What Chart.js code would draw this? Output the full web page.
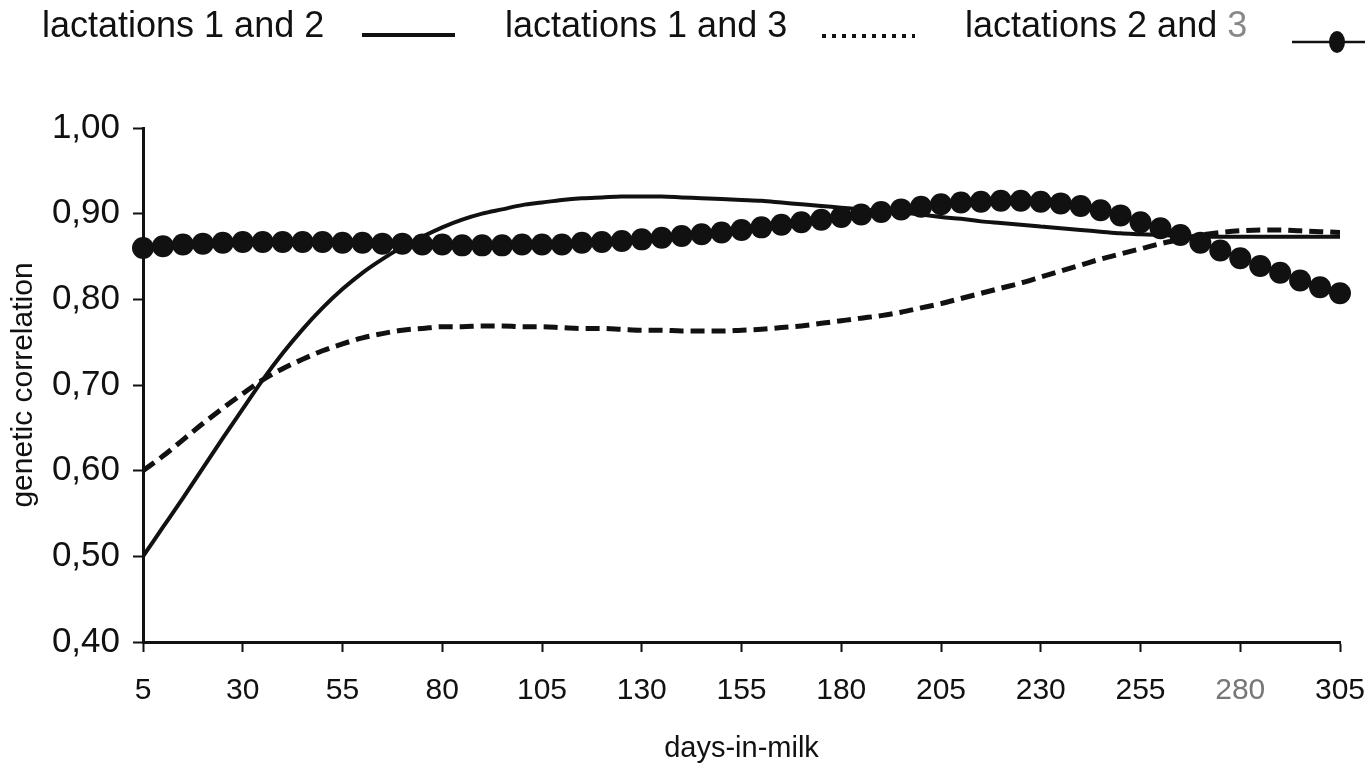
<!DOCTYPE html>
<html>
<head>
<meta charset="utf-8">
<title>genetic correlation by days-in-milk</title>
<script src="https://cdn.jsdelivr.net/npm/chart.js@4.4.1/dist/chart.umd.min.js"></script>
<style>
  html, body { margin: 0; padding: 0; background: #fff; }
  #wrap { width: 1370px; height: 770px; }
</style>
</head>
<body>
<div id="wrap"><canvas id="corrChart" width="1370" height="770"></canvas></div>
<script>
// ----------------- Data -----------------
const days = [5,10,15,20,25,30,35,40,45,50,55,60,65,70,75,80,85,90,95,100,
  105,110,115,120,125,130,135,140,145,150,155,160,165,170,175,180,185,190,195,200,
  205,210,215,220,225,230,235,240,245,250,255,260,265,270,275,280,285,290,295,300,305];
const xTicks = [5,30,55,80,105,130,155,180,205,230,255,280,305];
const yTicks = [0.4,0.5,0.6,0.7,0.8,0.9,1.0];

const seriesNames = ['lactations 1 and 2', 'lactations 1 and 3', 'lactations 2 and 3'];

const lact12 = [0.500,0.534,0.568,0.603,0.638,0.672,0.706,0.737,0.765,0.790,
  0.812,0.831,0.847,0.861,0.873,0.884,0.893,0.900,0.905,0.910,
  0.913,0.916,0.918,0.919,0.920,0.920,0.920,0.919,0.918,0.917,
  0.916,0.915,0.913,0.911,0.909,0.907,0.905,0.903,0.901,0.899,
  0.896,0.894,0.891,0.889,0.887,0.885,0.883,0.881,0.879,0.877,
  0.876,0.875,0.874,0.873,0.873,0.873,0.873,0.873,0.873,0.873,0.873];

const lact13 = [0.600,0.617,0.636,0.655,0.673,0.690,0.706,0.719,0.730,0.740,
  0.748,0.755,0.760,0.764,0.766,0.768,0.768,0.769,0.769,0.768,
  0.768,0.767,0.766,0.766,0.765,0.764,0.764,0.763,0.763,0.763,
  0.764,0.765,0.767,0.769,0.772,0.775,0.778,0.781,0.785,0.790,
  0.795,0.801,0.807,0.813,0.819,0.826,0.833,0.840,0.847,0.853,
  0.859,0.865,0.870,0.875,0.878,0.880,0.881,0.881,0.880,0.879,0.878];

const lact23 = [0.860,0.862,0.864,0.865,0.866,0.867,0.867,0.867,0.867,0.867,
  0.866,0.866,0.865,0.865,0.864,0.864,0.863,0.863,0.863,0.864,
  0.864,0.864,0.866,0.867,0.868,0.870,0.872,0.874,0.876,0.878,
  0.881,0.884,0.887,0.890,0.893,0.896,0.899,0.902,0.905,0.908,
  0.911,0.913,0.914,0.915,0.915,0.914,0.912,0.909,0.904,0.898,
  0.890,0.883,0.875,0.866,0.857,0.848,0.839,0.831,0.822,0.814,0.807];

const toPoints = vals => days.map((d, i) => ({ x: d, y: vals[i] }));

const INK = '#111';
const FONT = '"Liberation Sans", Arial, sans-serif';

// ----------------- Legend (text first, symbol after) -----------------
const topLegend = {
  id: 'topLegend',
  afterDraw(chart) {
    const ctx = chart.ctx;
    ctx.save();
    ctx.font = '36px ' + FONT;
    ctx.fillStyle = INK;
    ctx.textBaseline = 'alphabetic';
    ctx.fillText(seriesNames[0], 42, 37);
    ctx.fillText(seriesNames[1], 505, 37);
    const lead = seriesNames[2].slice(0, -1);
    ctx.fillText(lead, 965, 37);
    ctx.fillStyle = '#888';
    ctx.fillText(seriesNames[2].slice(-1), 965 + ctx.measureText(lead).width, 37);

    ctx.strokeStyle = INK;
    // solid
    ctx.lineWidth = 4;
    ctx.beginPath(); ctx.moveTo(362, 35); ctx.lineTo(455, 35); ctx.stroke();
    // dotted
    ctx.lineWidth = 4;
    ctx.setLineDash([4, 6]);
    ctx.beginPath(); ctx.moveTo(822, 36); ctx.lineTo(915, 36); ctx.stroke();
    ctx.setLineDash([]);
    // line with dot
    ctx.lineWidth = 2.5;
    ctx.beginPath(); ctx.moveTo(1292, 42); ctx.lineTo(1365, 42); ctx.stroke();
    ctx.fillStyle = INK;
    ctx.beginPath(); ctx.ellipse(1337, 42, 8, 11, 0, 0, Math.PI * 2); ctx.fill();
    ctx.restore();
  }
};

// ----------------- Chart -----------------
const ctx = document.getElementById('corrChart').getContext('2d');
new Chart(ctx, {
  type: 'line',
  data: {
    datasets: [
      {
        label: seriesNames[2],
        data: toPoints(lact23),
        borderColor: INK,
        borderWidth: 2,
        pointRadius: 11,
        pointBackgroundColor: INK,
        pointBorderWidth: 0,
        cubicInterpolationMode: 'monotone',
        clip: false,
        order: 0
      },
      {
        label: seriesNames[0],
        data: toPoints(lact12),
        borderColor: INK,
        borderWidth: 4,
        pointRadius: 0,
        cubicInterpolationMode: 'monotone',
        order: 1
      },
      {
        label: seriesNames[1],
        data: toPoints(lact13),
        borderColor: INK,
        borderWidth: 5,
        borderDash: [14, 7],
        borderCapStyle: 'butt',
        pointRadius: 0,
        cubicInterpolationMode: 'monotone',
        order: 2
      }
    ]
  },
  options: {
    responsive: false,
    animation: false,
    devicePixelRatio: 1,
    layout: { padding: { top: 128, right: 30, left: 0, bottom: 0 } },
    plugins: { legend: { display: false }, tooltip: { enabled: false } },
    scales: {
      x: {
        type: 'linear',
        min: 5, max: 305,
        afterBuildTicks: axis => { axis.ticks = xTicks.map(v => ({ value: v })); },
        afterFit: s => { s.height = 128; s.paddingLeft = 0; s.paddingRight = 0; },
        grid: { drawOnChartArea: false, drawTicks: true, tickLength: 10, tickWidth: 2, color: INK },
        border: { display: true, color: INK, width: 3 },
        ticks: {
          autoSkip: false, maxRotation: 0, padding: 21,
          font: { family: FONT, size: 30 },
          color: c => c.tick && c.tick.value === 280 ? '#777' : INK
        },
        title: { display: true, text: 'days-in-milk', color: INK, font: { family: FONT, size: 29 }, padding: { top: 0, bottom: 4 } }
      },
      y: {
        min: 0.4, max: 1.0,
        afterBuildTicks: axis => { axis.ticks = yTicks.map(v => ({ value: v })); },
        afterFit: s => { s.width = 143; },
        grid: { drawOnChartArea: false, drawTicks: true, tickLength: 10, tickWidth: 2, color: INK },
        border: { display: true, color: INK, width: 3 },
        ticks: {
          padding: 13,
          font: { family: FONT, size: 35 },
          color: INK,
          callback: v => v.toFixed(2).replace('.', ',')
        },
        title: { display: true, text: 'genetic correlation', color: INK, font: { family: FONT, size: 30 }, padding: { top: 6, bottom: 0 } }
      }
    }
  },
  plugins: [topLegend]
});
</script>
</body>
</html>
